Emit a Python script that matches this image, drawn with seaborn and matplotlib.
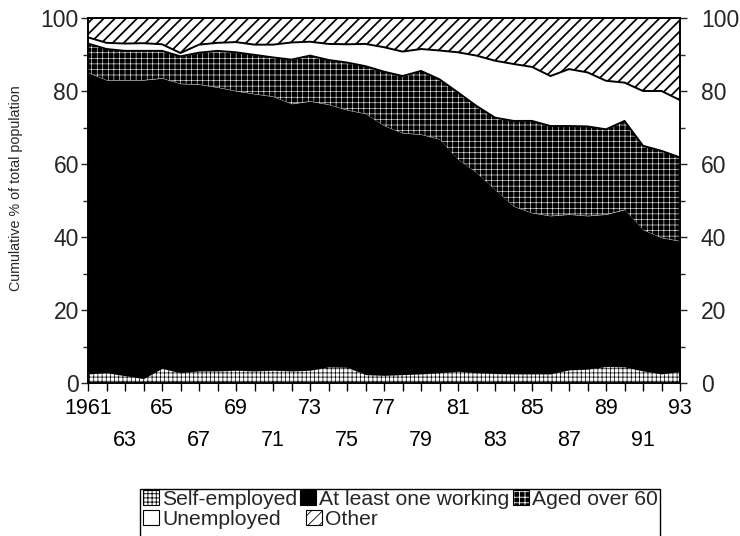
import numpy as np
import pandas as pd
import matplotlib
matplotlib.use("Agg")
import matplotlib as mpl
import matplotlib.pyplot as plt
import seaborn as sns
from matplotlib.patches import Patch, Rectangle
from matplotlib.legend_handler import HandlerTuple
from matplotlib.ticker import MultipleLocator

# ---------------- data (percent of total population) ----------------
years = list(range(1961, 1994))
self_employed = [2.5, 2.8, 2.0, 1.2, 4.0, 2.8, 3.3, 3.3, 3.5, 3.3, 3.5, 3.3, 3.5, 4.4, 4.3, 2.3, 2.1,
                 2.3, 2.5, 2.8, 3.2, 2.8, 2.6, 2.5, 2.5, 2.5, 3.6, 3.8, 4.5, 4.4, 3.3, 2.5, 3.1]
at_least_one_working = [82.5, 80.2, 81.0, 81.8, 79.5, 79.2, 78.5, 77.7, 76.5, 75.9, 75.0, 73.2, 73.7,
                        71.9, 70.5, 71.5, 68.4, 66.2, 65.6, 64.0, 58.1, 54.8, 50.4, 45.9, 44.1, 43.3,
                        42.6, 42.0, 41.7, 43.1, 38.7, 37.3, 35.8]
aged_over_60 = [8.0, 8.5, 8.0, 8.0, 7.5, 7.5, 8.7, 10.0, 10.6, 10.7, 10.7, 12.1, 12.5, 12.2, 13.0,
                13.0, 14.8, 15.6, 17.4, 16.4, 18.3, 18.3, 19.7, 23.4, 25.2, 24.6, 24.2, 24.5, 23.3,
                24.3, 23.0, 23.8, 22.9]
unemployed = [1.7, 1.7, 2.0, 2.1, 1.8, 0.9, 2.2, 2.2, 2.8, 2.8, 3.5, 4.7, 3.8, 4.4, 5.0, 6.1, 6.7,
              6.7, 6.0, 7.9, 11.0, 13.8, 15.6, 15.6, 14.8, 13.7, 15.6, 14.8, 13.3, 10.5, 15.0, 16.4,
              15.7]
other = [5.3, 6.8, 7.0, 6.9, 7.2, 9.6, 7.3, 6.8, 6.6, 7.3, 7.3, 6.7, 6.5, 7.1, 7.2, 7.1, 8.0, 9.2,
         8.5, 8.9, 9.4, 10.3, 11.7, 12.6, 13.4, 15.9, 14.0, 14.9, 17.2, 17.7, 20.0, 20.0, 22.5]
series_names = ["Self-employed", "At least one working", "Aged over 60", "Unemployed", "Other"]
xtick_labels = ["1961", "63", "65", "67", "69", "71", "73", "75", "77", "79", "81", "83", "85",
                "87", "89", "91", "93"]
ytick_values = [0, 20, 40, 60, 80, 100]

# ---------------- style ----------------
sns.set_theme(style="ticks")
plt.rcParams["font.family"] = ["Liberation Sans", "DejaVu Sans"]
plt.rcParams["hatch.linewidth"] = 0.6


def with_hatch_lw(artist, lw):
    """Draw this artist with its own hatch line width."""
    orig = artist.draw

    def draw(renderer, _orig=orig, _lw=lw):
        with mpl.rc_context({"hatch.linewidth": _lw}):
            _orig(renderer)
    artist.draw = draw


fig = plt.figure(figsize=(7.4, 5.36), dpi=100)
ax = fig.add_axes([88 / 740, 1 - 383 / 536, 592 / 740, 365 / 536])

series = [self_employed, at_least_one_working, aged_over_60, unemployed, other]
styles = [
    dict(fc="white", ec="black", hatch="++++", hlw=0.5),
    dict(fc="black", ec="black", hatch=None, hlw=0.5),
    dict(fc="black", ec="white", hatch="+++", hlw=0.4),
    dict(fc="white", ec="white", hatch=None, hlw=0.5),
    dict(fc="white", ec="black", hatch="///", hlw=1.25),
]
df = pd.DataFrame({n: s for n, s in zip(series_names, series)}, index=years)
cum = df.cumsum(axis=1)
lower = np.zeros(len(years))
for name, st in zip(series_names, styles):
    upper = cum[name].values
    with mpl.rc_context({"hatch.linewidth": st["hlw"]}):
        coll = ax.fill_between(years, lower, upper, facecolor=st["fc"], edgecolor=st["ec"],
                               linewidth=0, hatch=st["hatch"])
    if hasattr(coll, "set_hatch_linewidth"):
        coll.set_hatch_linewidth(st["hlw"])
    with_hatch_lw(coll, st["hlw"])
    lower = upper

# boundary lines around the white (unemployed) band
for col in ["Aged over 60", "Unemployed"]:
    sns.lineplot(x=cum.index, y=cum[col].values, color="black", lw=1.4, ax=ax)
ax.set_xlabel("")

ax.set_xlim(years[0], years[-1])
ax.set_ylim(0, 100)

# x ticks: every year, labels alternate on two rows
labels = []
li = 0
for y in years:
    if (y - years[0]) % 2 == 0:
        lab = xtick_labels[li]
        labels.append(lab if li % 2 == 0 else "\n" + lab)
        li += 1
    else:
        labels.append("")
ax.set_xticks(years)
ax.set_xticklabels(labels, fontsize=15.5)
for t in ax.get_xticklabels():
    t.set_linespacing(1.7)
ax.tick_params(axis="x", direction="out", length=6, width=1, pad=5, colors="black")

# left y axis
ax.set_yticks(ytick_values)
ax.yaxis.set_minor_locator(MultipleLocator(10))
ax.tick_params(axis="y", which="major", direction="out", length=5, width=1, labelsize=16.5,
               left=True, right=False, labelleft=True, labelright=False, pad=1.5)
ax.tick_params(axis="y", which="minor", direction="out", length=3.5, width=1, left=True, right=False)
ax.set_ylabel("Cumulative % of total population", fontsize=10.3)
ax.yaxis.set_label_coords(-0.109, 0.535)

# right y axis (same scale)
ax2 = ax.twinx()
ax2.set_ylim(ax.get_ylim())
ax2.set_yticks(ytick_values)
ax2.yaxis.set_minor_locator(MultipleLocator(10))
ax2.tick_params(axis="y", which="major", direction="out", length=5, width=1, labelsize=16.5, pad=10)
ax2.tick_params(axis="y", which="minor", direction="out", length=3.5, width=1)
ax2.grid(False)

for a in (ax, ax2):
    for sp in a.spines.values():
        sp.set_visible(True)
        sp.set_color("black")
        sp.set_linewidth(1.2)

# ---------------- legend ----------------
border = dict(fill=False, ec="black", lw=0.8)
leg_patches = {
    "Self-employed": Patch(fc="white", ec="black", hatch="++++", lw=0),
    "At least one working": Patch(fc="black", ec="black", lw=0),
    "Aged over 60": Patch(fc="black", ec="white", hatch="+++", lw=0),
    "Unemployed": Patch(fc="white", ec="white", lw=0),
    "Other": Patch(fc="white", ec="black", hatch="///", lw=0),
}
handles = {k: (p, Patch(**border)) for k, p in leg_patches.items()}
common = dict(frameon=False, fontsize=15.2, handlelength=0.75, handleheight=0.75,
              handletextpad=0.15, borderpad=0.0, borderaxespad=0.0,
              handler_map={tuple: HandlerTuple(ndivide=1)}, loc="upper left")
row1 = ["Self-employed", "At least one working", "Aged over 60"]
row2 = ["Unemployed", "Other"]
leg1 = fig.legend([handles[n] for n in row1], row1, ncol=3, columnspacing=0.15,
                  bbox_to_anchor=(143 / 740, 1 - 490 / 536), bbox_transform=fig.transFigure, **common)
leg2 = fig.legend([handles[n] for n in row2], row2, ncol=2, columnspacing=1.2,
                  bbox_to_anchor=(143 / 740, 1 - 510 / 536), bbox_transform=fig.transFigure, **common)
fig.patches.append(Rectangle((140 / 740, -0.05), 520 / 740, 0.05 + (1 - 489 / 536),
                             transform=fig.transFigure, fill=False, ec="black", lw=1.0))

fig.savefig("out.png", dpi=100)
